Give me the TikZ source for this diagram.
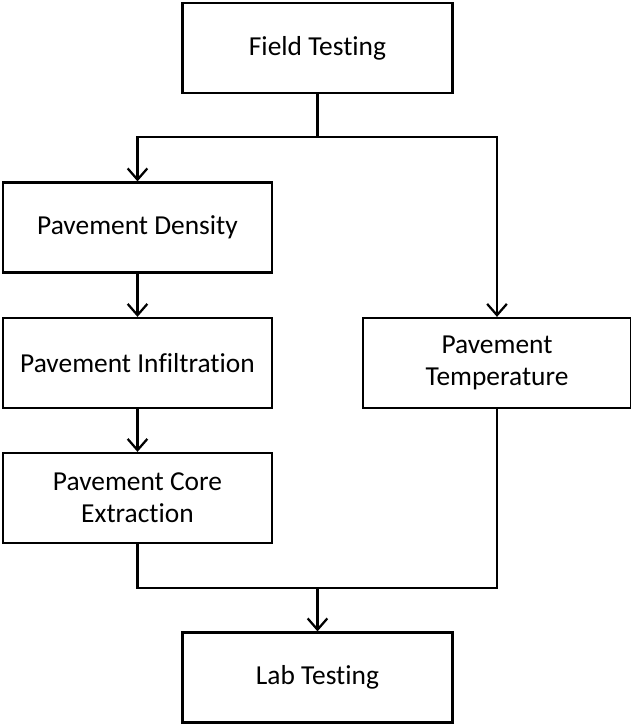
\documentclass[tikz,border=0pt]{standalone}
\usepackage{fontspec}
\setmainfont{Carlito}[Ligatures={NoCommon}]
\usetikzlibrary{arrows.meta}
\tikzset{
  stagebox/.style={draw, line width=1.6pt, minimum width=6.75cm, minimum height=2.25cm,
    align=center, font=\fontsize{19.5}{22.7}\selectfont, inner sep=0pt},
  flow/.style={line width=1.6pt},
  flowarrow/.style={flow, -{Straight Barb[length=8pt, width=14pt, line width=1.6pt]}}
}

\begin{document}
\begin{tikzpicture}[x=0.025cm, y=-0.025cm]
  \useasboundingbox (0,0) rectangle (631,724);

  % Boxes
  \node[stagebox] (field) at (317.5, 48) {Field Testing};
  \node[stagebox, minimum width=6.72cm] (dens)  at (137.5, 227.5) {Pavement Density};
  \node[stagebox, minimum width=6.72cm] (infil) at (137.5, 363) {Pavement Infiltration};
  \node[stagebox, minimum width=6.72cm] (core)  at (137.5, 498) {Pavement Core\\Extraction};
  \node[stagebox, minimum width=6.7cm]  (temp)  at (497, 363) {Pavement\\Temperature};
  \node[stagebox] (lab) at (317.5, 677.5) {Lab Testing};

  % Split and join points
  \coordinate (split) at (317.5, 137);
  \coordinate (join) at (317.5, 588);

  % Connectors
  \draw[flow] (field.south) -- (split);
  \draw[flowarrow] (split) -| (dens.north);
  \draw[flowarrow] (split) -| (temp.north);
  \draw[flowarrow] (dens.south) -- (infil.north);
  \draw[flowarrow] (infil.south) -- (core.north);
  \draw[flow] (core.south) |- (join);
  \draw[flow] (temp.south) |- (join);
  \draw[flowarrow] (join) -- (lab.north);
\end{tikzpicture}
\end{document}
